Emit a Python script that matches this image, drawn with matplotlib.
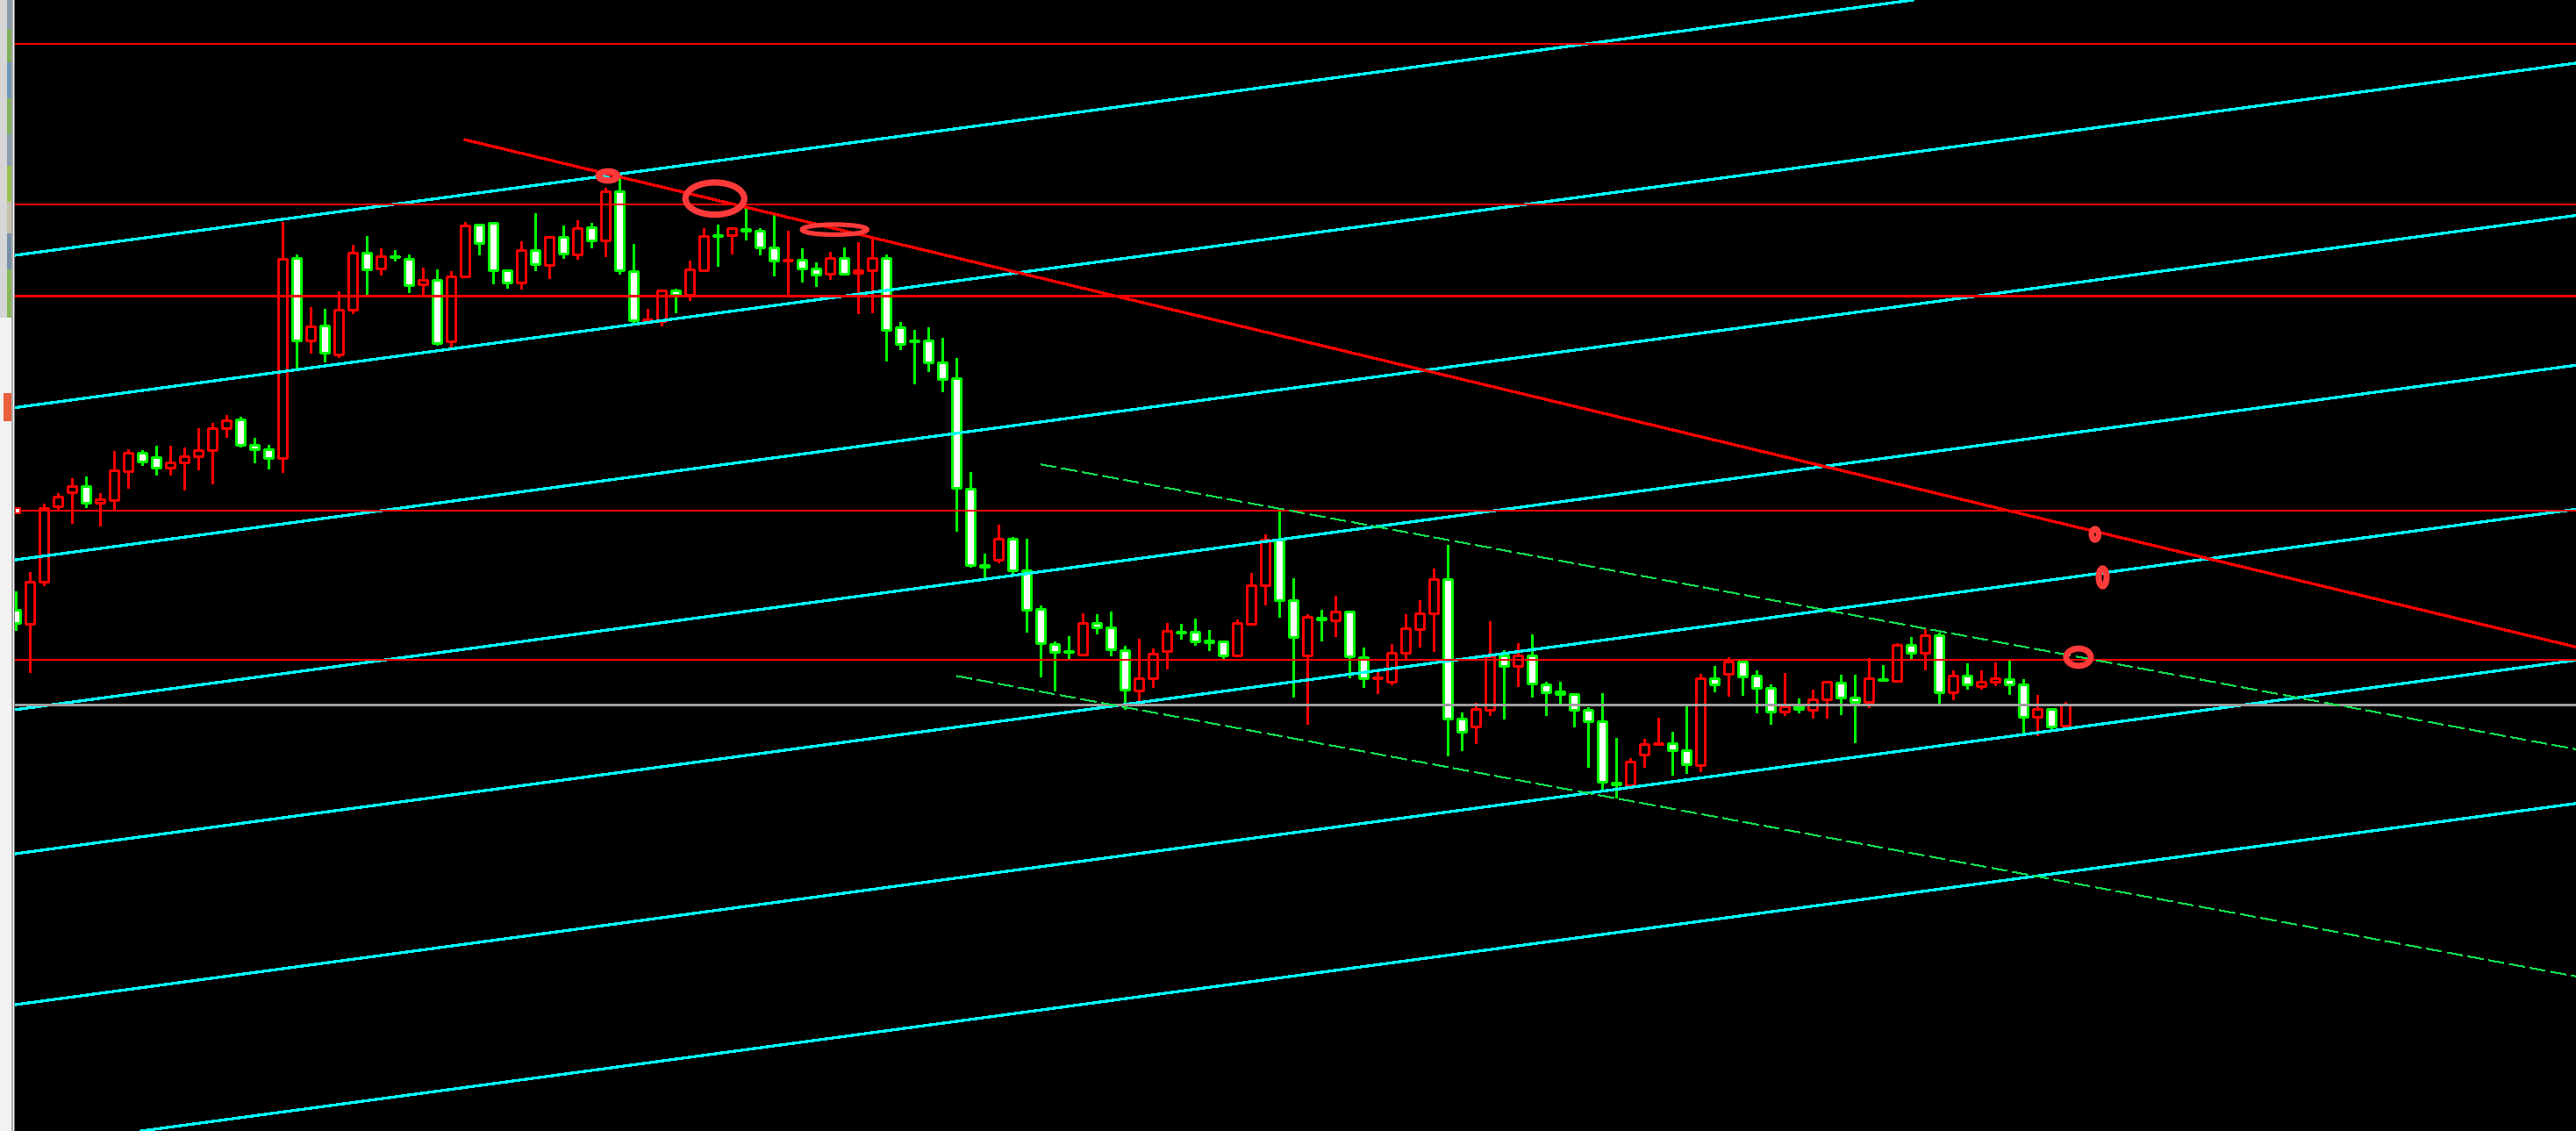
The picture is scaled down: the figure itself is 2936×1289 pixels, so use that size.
import matplotlib
matplotlib.use('Agg')
import matplotlib.pyplot as plt
from matplotlib.patches import Rectangle, Ellipse

# bar prices (chart units), oldest bar first
opens = [593.7, 578.3, 626.3, 711.6, 727.7, 734.7, 716.5, 719.3, 752.3, 772.6,
         767.7, 755.8, 761.7, 768.7, 775.8, 800.7, 811.5, 781.7, 776.8, 766.6,
         994.6, 900.6, 917.8, 885.5, 935.7, 1000.7, 982.7, 996.8, 993.7, 964.7,
         969.7, 899.7, 973.7, 1032.7, 1034.7, 980.7, 966.7, 1003.7, 986.7, 1018.7,
         998.7, 1029.7, 1014.7, 1070.7, 979.7, 922.7, 922.7, 957.7, 952.7, 981.3,
         1021.2, 1020.7, 1027.7, 1025.7, 1006.7, 991.8, 992.7, 982.7, 977.3, 994.7,
         977.7, 980.7, 994.7, 915.7, 901.2, 900.7, 875.7, 857.6, 731.7, 644.9,
         651.0, 674.7, 638.7, 594.7, 555.3, 547.0, 543.3, 578.7, 573.7, 547.7,
         502.3, 515.7, 547.3, 569.2, 568.7, 559.3, 557.7, 542.3, 578.3, 621.7,
         673.7, 605.3, 542.3, 584.7, 582.3, 591.7, 540.3, 515.8, 512.3, 544.7,
         571.7, 589.7, 628.7, 469.7, 461.3, 480.3, 541.7, 529.7, 541.7, 508.7,
         500.7, 497.7, 479.7, 466.7, 396.7, 394.3, 428.7, 440.8, 441.7, 433.7,
         416.7, 515.7, 520.7, 534.7, 518.7, 504.7, 477.7, 483.7, 479.7, 491.7,
         510.7, 494.3, 488.7, 515.3, 512.7, 553.7, 544.7, 564.7, 499.7, 518.7,
         506.7, 511.7, 514.7, 508.7, 471.7, 480.7, 461.7]
highs = [615.1, 636.9, 715.1, 727.0, 743.8, 746.0, 727.0, 775.1, 777.2, 776.1,
         781.0, 781.0, 778.9, 801.0, 807.0, 816.1, 814.0, 790.1, 781.7, 1036.0,
         998.8, 938.9, 937.1, 957.1, 1010.1, 1020.0, 1005.7, 1003.7, 999.0, 983.7,
         981.7, 979.7, 1035.7, 1032.7, 1034.7, 980.7, 1013.7, 1045.7, 1018.7, 1031.7,
         1038.0, 1034.7, 1075.0, 1085.7, 1010.7, 936.7, 958.7, 960.0, 991.7, 1028.7,
         1032.7, 1030.0, 1051.7, 1029.0, 1044.0, 1025.7, 1005.7, 989.7, 1002.0, 1007.0,
         1013.0, 1017.3, 998.7, 921.7, 913.0, 916.3, 904.0, 880.8, 750.9, 657.9,
         690.8, 677.0, 674.7, 598.6, 558.4, 563.7, 589.7, 589.0, 592.0, 553.0,
         561.0, 550.0, 579.0, 578.0, 584.0, 571.0, 557.7, 583.0, 636.0, 680.0,
         706.3, 630.0, 589.0, 594.0, 610.0, 591.7, 550.7, 524.0, 555.0, 589.0,
         605.0, 641.0, 668.0, 477.0, 487.7, 581.0, 548.0, 555.7, 565.7, 512.0,
         512.0, 497.7, 483.0, 499.0, 448.0, 425.0, 447.0, 471.0, 455.0, 484.0,
         521.0, 530.0, 540.0, 535.7, 525.0, 508.7, 522.0, 493.3, 503.0, 511.7,
         520.0, 520.0, 539.0, 531.0, 555.7, 562.7, 572.3, 568.0, 524.7, 532.7,
         524.7, 533.7, 535.7, 514.7, 496.7, 480.7, 488.7]
lows = [571.3, 522.9, 621.8, 708.1, 693.0, 711.2, 690.5, 708.1, 733.3, 759.3,
        748.4, 748.4, 730.9, 754.4, 738.2, 791.2, 780.3, 762.4, 755.4, 750.9,
        869.4, 887.3, 877.5, 882.4, 932.2, 953.3, 976.3, 992.3, 956.3, 953.3,
        895.7, 892.3, 973.7, 999.3, 966.3, 961.3, 960.3, 981.3, 972.3, 995.3,
        994.0, 1007.3, 997.3, 977.3, 919.7, 922.7, 918.3, 933.3, 947.3, 979.7,
        985.7, 1000.0, 1016.3, 999.3, 975.3, 953.0, 968.3, 963.3, 971.3, 975.7,
        932.3, 933.3, 878.3, 891.3, 852.3, 866.3, 843.3, 684.3, 643.3, 628.8,
        648.3, 634.2, 569.5, 517.8, 502.5, 538.1, 543.3, 567.0, 542.0, 481.3,
        490.0, 506.0, 527.3, 561.3, 554.0, 548.0, 539.0, 542.3, 578.3, 600.0,
        586.0, 495.0, 464.0, 559.0, 564.3, 517.3, 506.3, 499.0, 509.0, 539.0,
        552.0, 547.3, 428.3, 434.0, 442.0, 474.0, 470.0, 507.3, 495.3, 474.0,
        488.0, 461.3, 415.0, 387.3, 379.7, 394.3, 415.3, 440.8, 406.3, 408.3,
        410.0, 501.3, 496.3, 497.3, 477.3, 464.3, 474.3, 477.0, 471.3, 471.3,
        475.3, 443.3, 483.3, 514.0, 512.7, 538.7, 526.3, 488.3, 492.3, 504.3,
        504.3, 508.3, 498.3, 451.7, 450.7, 458.0, 461.7]
closes = [579.0, 625.6, 710.5, 723.5, 734.7, 716.5, 719.6, 752.6, 772.6, 762.8,
          755.8, 761.7, 768.7, 775.8, 800.7, 809.8, 781.7, 776.8, 766.6, 993.6,
          900.6, 916.8, 886.6, 935.7, 1000.6, 981.7, 996.7, 995.8, 963.7, 969.7,
          897.7, 973.7, 1031.7, 1011.7, 980.7, 966.7, 1003.7, 987.7, 1018.7, 999.7,
          1028.7, 1014.7, 1070.7, 980.7, 923.7, 924.7, 957.7, 953.0, 981.7, 1019.7,
          1020.2, 1028.7, 1025.7, 1006.7, 991.7, 992.8, 982.7, 975.7, 994.7, 977.3,
          980.7, 994.7, 913.3, 896.7, 900.2, 875.7, 856.7, 732.8, 644.9, 642.6,
          674.7, 638.7, 593.6, 555.7, 546.5, 546.0, 578.7, 573.7, 548.7, 503.3,
          515.7, 543.7, 569.7, 568.2, 558.3, 556.7, 542.3, 578.7, 621.7, 673.7,
          605.3, 562.7, 585.7, 582.7, 591.7, 540.7, 515.7, 516.8, 544.7, 572.7,
          589.7, 628.7, 469.7, 454.7, 480.7, 540.7, 529.7, 541.7, 509.7, 499.7,
          497.7, 479.7, 466.7, 397.7, 394.7, 420.7, 440.7, 441.8, 433.7, 417.7,
          515.7, 508.7, 534.7, 518.3, 504.7, 477.7, 483.7, 480.7, 491.7, 511.7,
          494.3, 488.7, 515.7, 514.0, 553.7, 544.7, 564.7, 499.7, 518.7, 508.7,
          511.7, 515.7, 508.7, 471.7, 480.7, 460.7, 485.7]

# horizontal levels
red_levels = [1239.5, 1056.2, 952.2, 707.2, 537.2]
gray_level = 485.7

# rising cyan channel lines: price at bar 0 and at bar 180
chan_bar0 = [998.2, 824.6, 651.0, 480.3, 316.1, 144.1, -19.2]
chan_bar180 = [1385.6, 1212.0, 1038.4, 867.7, 703.5, 531.5, 368.2]

# falling red trend line (ray from first anchor)
trend_bars = [32, 155]
trend_prices = [1129.7, 656.8]

# falling green dashed lines (rays): start bar/price, price at bar 180
green_start_bars = [73, 67]
green_start_prices = [759.7, 518.6]
green_end_prices = [442.1, 183.2]

# red ellipse marks: centre bar, centre price, width (bars), height
mark_bars = [42.17, 49.78, 58.31, 148.1, 148.64, 146.92]
mark_prices = [1088.5, 1062.7, 1027.3, 680.0, 631.0, 540.0]
mark_w = [1.34, 4.19, 4.63, 0.51, 0.56, 1.75]
mark_h = [10.4, 36.7, 11.5, 12.8, 20.3, 19.7]

W, H, DPI = 2936, 1289, 100
PX = 72 / DPI  # points per pixel
plt.rcParams['lines.scale_dashes'] = False

fig = plt.figure(figsize=(W / DPI, H / DPI), dpi=DPI, facecolor='black')
ax = fig.add_axes([17 / W, 0, 1 - 17 / W, 1])
ax.set_facecolor('black')
x0, x1 = -0.08, 182.36
ax.set_xlim(x0, x1)
ax.set_ylim(0, H)
ax.axis('off')

# candles
for i in range(len(opens)):
    o, h, l, c = opens[i], highs[i], lows[i], closes[i]
    up = c > o
    col = '#ff0000' if up else '#00ff00'
    ax.vlines(i, l, h, color=col, lw=1.3 * PX, zorder=2, antialiased=False)
    ax.add_patch(Rectangle((i - 0.3, min(o, c)), 0.6, abs(c - o),
                           facecolor='black' if up else 'white',
                           edgecolor=col, lw=1.3 * PX, zorder=3,
                           antialiased=False))

# cyan channel
for s, e in zip(chan_bar0, chan_bar180):
    ax.axline((0, s), (180, e), color='#00ffff', lw=2.2 * PX, zorder=4,
              antialiased=False)

# horizontal levels
for lvl, lw in zip(red_levels, [2, 2, 1.4, 2, 1.6]):
    ax.axhline(lvl, color='#ff0000', lw=lw * PX, zorder=4, antialiased=False)
ax.axhline(gray_level, color='#a0a0a0', lw=1.2 * PX, zorder=4,
           antialiased=False)

# level label marker at the left edge
ax.plot(x0 + 0.2, red_levels[3], marker='s', ms=6 * PX, mfc='white',
        mec='#ff0000', mew=2 * PX, zorder=5, clip_on=False)

# red trend ray
k = (trend_prices[1] - trend_prices[0]) / (trend_bars[1] - trend_bars[0])
ax.plot([trend_bars[0], x1], [trend_prices[0], trend_prices[0] + k * (x1 - trend_bars[0])],
        color='#ff0000', lw=2.2 * PX, zorder=4, antialiased=False)

# green dashed rays
for b, p, pe in zip(green_start_bars, green_start_prices, green_end_prices):
    k = (pe - p) / (180 - b)
    ax.plot([b, x1], [p, p + k * (x1 - b)], color='#11e050', lw=1.2 * PX,
            dashes=(18 * PX, 6 * PX), zorder=4, antialiased=False)

# ellipse marks
for b, p, w, h, lw in zip(mark_bars, mark_prices, mark_w, mark_h,
                          [7.3, 7.2, 5.3, 6.5, 7, 7]):
    ax.add_patch(Ellipse((b, p), w, h, fill=False, edgecolor='#ff3a3a',
                         lw=lw * PX, zorder=6))


# left toolbar strip (figure pixels, measured from top-left)
def strip(x, y, w, h, color):
    fig.add_artist(Rectangle((x / W, 1 - (y + h) / H), w / W, h / H,
                             transform=fig.transFigure, color=color, lw=0))


strip(0, 0, 17, H, '#f2f2f2')
strip(0, 0, 8, 362, '#d6d6d6')
for y0, y1, c in [(0, 33, '#8a9aa8'), (33, 71, '#7fae5a'), (71, 112, '#6c98b8'),
                  (112, 153, '#82b060'), (153, 189, '#8c9cac'), (189, 230, '#9cc050'),
                  (230, 266, '#c8c0a8'), (266, 307, '#7890a8'), (307, 362, '#88b858')]:
    strip(8, y0, 5, y1 - y0, c)
strip(13, 0, 2, H, '#a8a8a8')
strip(15, 0, 1, H, '#ffffff')
strip(16, 0, 1, H, '#707070')
strip(4, 448, 9, 32, '#e8603c')

fig.savefig('out.png', dpi=DPI, facecolor='black')
